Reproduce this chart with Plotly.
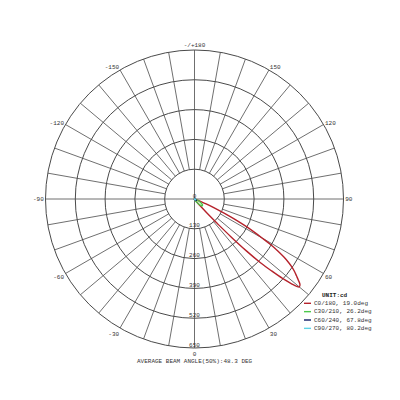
import plotly.graph_objects as go

# ---------------- data ----------------
radial_ticks = [130, 260, 390, 520, 650]
radial_labels = ["0", "130", "260", "390", "520", "650"]
angle_ticks = [0, 30, 60, 90, 120, 150, 180, 210, 240, 270, 300, 330]
angle_labels = ["0", "30", "60", "90", "120", "150", "-/+180", "-150", "-120", "-90", "-60", "-30"]

# C0/180 plane (theta measured from nadir, right side positive)
c0_theta = [0, 10, 20, 30, 35, 38, 40, 42, 43, 44, 45, 46, 47, 48, 49, 50, 51, 52, 53, 54, 55,
            56, 57, 58, 59, 60, 61, 62, 63, 64, 65, 66, 67, 68, 70, 75, 80, 90,
            180, 270, 300, 330, 360]
c0_cd = [2, 2, 3, 5, 8, 18, 40, 100, 150, 230, 320, 400, 460, 520, 570, 597, 592, 575, 557, 540, 520,
         495, 465, 430, 390, 342, 298, 255, 210, 165, 120, 85, 55, 30, 12, 4, 2, 1,
         0, 0, 1, 2, 2]

c30_theta = [0, 20, 30, 35, 40, 45, 50, 55, 60, 65, 70, 80, 90, 180, 270, 360]
c30_cd = [2, 3, 8, 18, 30, 40, 45, 42, 32, 18, 8, 3, 1, 0, 0, 2]

c60_theta = [0, 30, 45, 55, 65, 80, 90, 180, 270, 360]
c60_cd = [2, 4, 8, 10, 7, 3, 1, 0, 0, 2]

c90_theta = [0, 30, 50, 70, 90, 180, 270, 360]
c90_cd = [2, 4, 6, 4, 1, 0, 0, 2]

series_names = ["C0/180, 19.0deg", "C30/210, 26.2deg", "C60/240, 67.8deg", "C90/270, 80.2deg"]
series_colors = ["#b5222b", "#4cc94c", "#101a66", "#5fd3e6"]
legend_title = "UNIT:cd"
title_text = "AVERAGE BEAM ANGLE(50%):48.3 DEG"

FONT = "Liberation Mono"
GRID = "#4a4a4a"

fig = go.Figure()

# spokes: every 10 deg from the first ring outward, main axes through centre
sp_r, sp_t = [], []
for a in range(0, 360, 10):
    start = 0 if a % 90 == 0 else radial_ticks[0]
    sp_r += [start, radial_ticks[-1], None]
    sp_t += [a, a, None]
fig.add_trace(go.Scatterpolar(r=sp_r, theta=sp_t, mode="lines",
                              line=dict(color=GRID, width=0.8),
                              hoverinfo="skip", showlegend=False))

# curves
for th, cd, name, col in zip([c0_theta, c30_theta, c60_theta, c90_theta],
                             [c0_cd, c30_cd, c60_cd, c90_cd],
                             series_names, series_colors):
    fig.add_trace(go.Scatterpolar(r=cd, theta=th, mode="lines", name=name,
                                  line=dict(color=col, width=1.4, shape="spline"),
                                  showlegend=False))

# radial labels along the nadir axis
fig.add_trace(go.Scatterpolar(r=[0] + radial_ticks, theta=[0] * 6, mode="text",
                              text=radial_labels, textposition="top center",
                              textfont=dict(family=FONT, size=6, color="#333"),
                              hoverinfo="skip", showlegend=False))

fig.update_layout(
    width=400, height=400,
    margin=dict(l=0, r=0, t=0, b=0),
    paper_bgcolor="white",
    polar=dict(
        domain=dict(x=[(194.5 - 149) / 400, (194.5 + 149) / 400],
                    y=[(201 - 149) / 400, (201 + 149) / 400]),
        bgcolor="white",
        angularaxis=dict(rotation=270, direction="counterclockwise",
                         tickmode="array", tickvals=angle_ticks, ticktext=angle_labels,
                         showgrid=False, showline=True, linecolor=GRID, linewidth=1,
                         ticks="", tickfont=dict(family=FONT, size=6, color="#333")),
        radialaxis=dict(range=[0, radial_ticks[-1]], tickvals=radial_ticks,
                        showticklabels=False, showline=False, ticks="",
                        gridcolor=GRID, gridwidth=0.8),
    ),
)

# manual legend
fig.add_annotation(x=320 / 400, y=1 - 295 / 400, xref="paper", yref="paper",
                   text="<b>" + legend_title + "</b>", showarrow=False,
                   xanchor="left", yanchor="middle",
                   font=dict(family=FONT, size=6, color="#222"))
for i, (name, col) in enumerate(zip(series_names, series_colors)):
    yy = 1 - (303.3 + i * 8.35) / 400
    fig.add_shape(type="line", xref="paper", yref="paper",
                  x0=304 / 400, x1=311 / 400, y0=yy, y1=yy,
                  line=dict(color=col, width=1.4))
    fig.add_annotation(x=312 / 400, y=yy, xref="paper", yref="paper",
                       text=name, showarrow=False, xanchor="left", yanchor="middle",
                       font=dict(family=FONT, size=6, color="#333"))

fig.add_annotation(x=194.5 / 400, y=1 - 361 / 400, xref="paper", yref="paper",
                   text=title_text, showarrow=False, xanchor="center", yanchor="middle",
                   font=dict(family=FONT, size=6, color="#333"))

fig.write_html("out.html")
